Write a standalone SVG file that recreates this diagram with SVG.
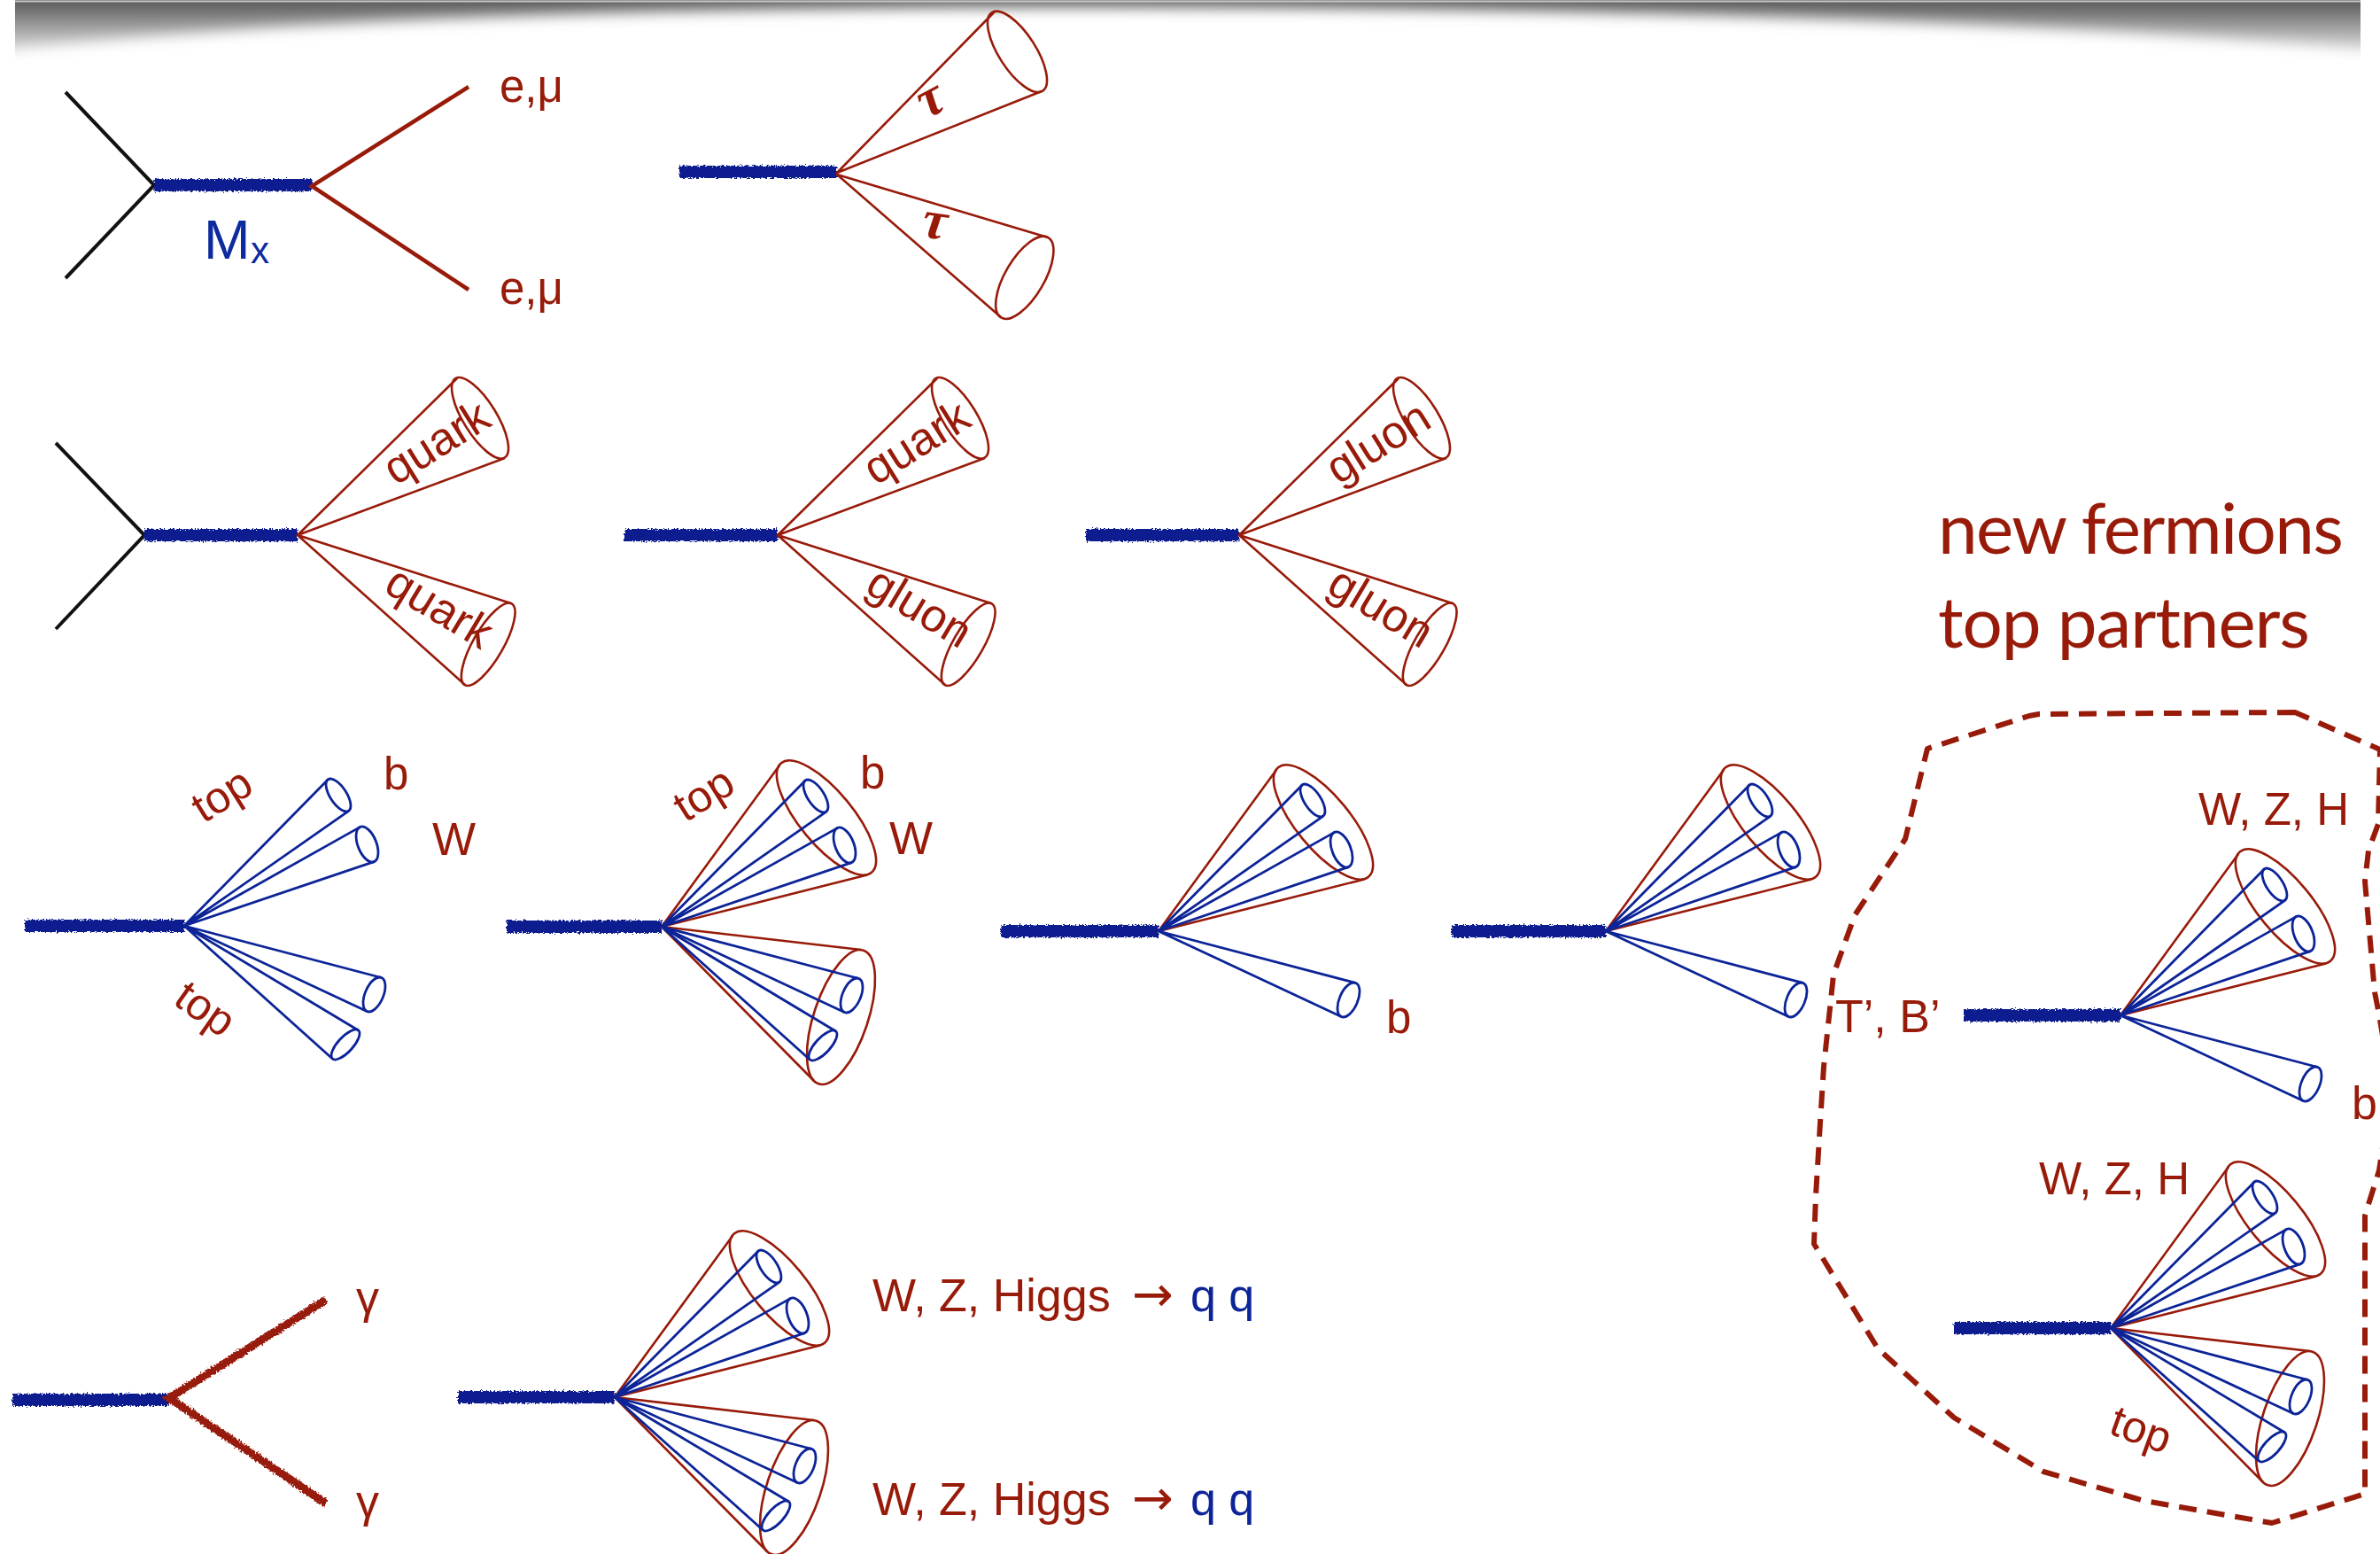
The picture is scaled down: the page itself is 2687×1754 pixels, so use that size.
<svg xmlns="http://www.w3.org/2000/svg" width="2687" height="1754" viewBox="0 0 2687 1754">
  <style>
    .rc { fill: none; stroke: #981b0a; stroke-width: 2.6; stroke-linejoin: round; }
    .bc { fill: none; stroke: #0c2497; stroke-width: 2.8; stroke-linejoin: round; }
    .prop { fill: #0a1f8e; }
    .lep { fill: none; stroke: #981b0a; stroke-width: 4.5; stroke-linejoin: miter; }
    .beam { fill: none; stroke: #111111; stroke-width: 4; stroke-linejoin: miter; }
    .lbl { font-family: "Liberation Sans", Arial, sans-serif; fill: #981b0a; }
    .blue { fill: #0c2497; }
    .arrow { font-family: "DejaVu Sans", sans-serif; font-size: 56px; }
    .big { font-family: Lato, "Open Sans", "Liberation Sans", sans-serif; font-weight: 400; fill: #981b0a; font-size: 80px; }
    .tau { font-family: "Liberation Serif", "Times New Roman", serif; font-weight: bold; font-style: italic; fill: #981b0a; font-size: 62px; }
    .outline { fill: none; stroke: #981b0a; stroke-width: 6; stroke-dasharray: 20 12; stroke-linejoin: round; }
  </style>
  <defs>
    <!-- ragged, grainy look of the propagator strokes -->
    <filter id="fuzz" x="-5%" y="-80%" width="110%" height="260%">
      <feTurbulence type="fractalNoise" baseFrequency="0.45 0.7" numOctaves="2" seed="7" result="noise"/>
      <feDisplacementMap in="SourceGraphic" in2="noise" scale="6" xChannelSelector="R" yChannelSelector="G"/>
    </filter>
    <filter id="fuzzLine" x="-10%" y="-10%" width="120%" height="120%">
      <feTurbulence type="fractalNoise" baseFrequency="0.5 0.5" numOctaves="2" seed="3" result="noise"/>
      <feDisplacementMap in="SourceGraphic" in2="noise" scale="7" xChannelSelector="R" yChannelSelector="G"/>
    </filter>
    <!-- page-edge shadow -->
    <linearGradient id="shadeGrad" gradientUnits="userSpaceOnUse" x1="0" y1="0" x2="0" y2="60">
      <stop offset="0" stop-color="#555555"/>
      <stop offset="1" stop-color="#e4e4e4"/>
    </linearGradient>
    <filter id="shadeBlur" filterUnits="userSpaceOnUse" x="-60" y="-60" width="2820" height="180">
      <feGaussianBlur stdDeviation="8"/>
    </filter>
    <clipPath id="shadeClip"><rect x="17" y="0" width="2648" height="90"/></clipPath>

    <!-- jet cones, apex at the origin -->
    <g id="coneRedUp" class="rc">
      <path d="M133,-182 L0,0 L232,-58.5"/>
      <ellipse cx="186" cy="-123" rx="80" ry="30" transform="rotate(50.4 186 -123)"/>
    </g>
    <g id="coneRedLow" class="rc">
      <path d="M225,26 L0,0 L172,174"/>
      <ellipse cx="202.5" cy="102" rx="79.5" ry="30.5" transform="rotate(108.6 202.5 102)"/>
    </g>
    <g id="jetsUp" class="bc">
      <path d="M162.4,-165.3 L0,0 L185.6,-129.7 M198.7,-111.6 L0,0 L214.3,-72.4"/>
      <ellipse cx="174" cy="-147.5" rx="21.2" ry="9.3" transform="rotate(56.9 174 -147.5)"/>
      <ellipse cx="206.5" cy="-92" rx="21.1" ry="10.5" transform="rotate(68.4 206.5 -92)"/>
    </g>
    <g id="jetB" class="bc">
      <path d="M222.7,58.5 L0,0 L206.3,96.5"/>
      <ellipse cx="214.5" cy="77.5" rx="20.7" ry="10.3" transform="rotate(113.2 214.5 77.5)"/>
    </g>
    <g id="jetsLow">
      <use href="#jetB"/>
      <g class="bc">
        <path d="M196.7,118 L0,0 L167.3,150"/>
        <ellipse cx="182" cy="134" rx="21.7" ry="8.5" transform="rotate(132.6 182 134)"/>
      </g>
    </g>
    <g id="qUp" class="rc">
      <path d="M180,-177 L0,0 L234,-87"/>
      <ellipse cx="206" cy="-132.2" rx="52.6" ry="18.7" transform="rotate(58.2 206 -132.2)"/>
    </g>
    <g id="qLow" class="rc">
      <path d="M241,77 L0,0 L189,169"/>
      <ellipse cx="215.2" cy="123.2" rx="53" ry="17" transform="rotate(120 215.2 123.2)"/>
    </g>
  </defs>

  <rect x="0" y="0" width="2687" height="1754" fill="#ffffff"/>

  <!-- shadow along the top edge -->
  <g id="top-shadow" clip-path="url(#shadeClip)">
    <path filter="url(#shadeBlur)" fill="url(#shadeGrad)" d="M-30,-30 H2720 V60 C2300,20 1700,6 1114,8 C700,10 300,22 -30,60 Z"/>
    <line x1="17" y1="1.5" x2="2665" y2="1.5" stroke="#c8c8c8" stroke-width="2"/>
  </g>

  <!-- resonance to lepton pair -->
  <g id="dilepton">
    <path class="beam" d="M74,104 L174,209 L74,314"/>
    <rect class="prop" x="174" y="202" width="178" height="14" filter="url(#fuzz)"/>
    <path class="lep" d="M529,98 L352,210 L529,327"/>
    <text class="lbl" x="564" y="115" font-size="51">e,μ</text>
    <text class="lbl" x="564" y="343" font-size="51">e,μ</text>
    <text x="230" y="292" font-family="Liberation Sans, Arial, sans-serif" font-size="63" fill="#0d2a9e">M</text>
    <text x="283" y="297" font-family="Liberation Sans, Arial, sans-serif" font-size="42" fill="#0d2a9e">x</text>
  </g>

  <!-- resonance to tau pair -->
  <g id="ditau">
    <rect class="prop" x="767" y="187" width="178" height="14" filter="url(#fuzz)"/>
    <g class="rc">
      <path d="M1123,13 L945,195 L1176,103"/>
      <ellipse cx="1148.5" cy="58.4" rx="52.7" ry="20.7" transform="rotate(57.1 1148.5 58.4)"/>
      <path d="M1183,268 L945,197 L1130,358"/>
      <ellipse cx="1156.8" cy="313.3" rx="52.4" ry="22" transform="rotate(120.4 1156.8 313.3)"/>
    </g>
    <text class="tau" text-anchor="middle" transform="translate(1052,116) rotate(-28)" x="0" y="14">τ</text>
    <text class="tau" text-anchor="middle" transform="translate(1055,255) rotate(8)" x="0" y="14">τ</text>
  </g>

  <!-- dijet: quark quark -->
  <g id="dijet-qq">
    <path class="beam" d="M63,500 L163,604 L63,710"/>
    <rect class="prop" x="163" y="597" width="173" height="14" filter="url(#fuzz)"/>
    <use href="#qUp" transform="translate(336,604)"/>
    <use href="#qLow" transform="translate(336,604)"/>
    <text class="lbl" font-size="52" text-anchor="middle" transform="translate(495,503) rotate(-32)" x="0" y="13">quark</text>
    <text class="lbl" font-size="52" text-anchor="middle" transform="translate(494,689) rotate(31)" x="0" y="13">quark</text>
  </g>

  <!-- dijet: quark gluon -->
  <g id="dijet-qg">
    <rect class="prop" x="705" y="597" width="173" height="14" filter="url(#fuzz)"/>
    <use href="#qUp" transform="translate(878,604)"/>
    <use href="#qLow" transform="translate(878,604)"/>
    <text class="lbl" font-size="52" text-anchor="middle" transform="translate(1037,503) rotate(-32)" x="0" y="13">quark</text>
    <text class="lbl" font-size="52" text-anchor="middle" transform="translate(1036,689) rotate(31)" x="0" y="13">gluon</text>
  </g>

  <!-- dijet: gluon gluon -->
  <g id="dijet-gg">
    <rect class="prop" x="1226" y="597" width="173" height="14" filter="url(#fuzz)"/>
    <use href="#qUp" transform="translate(1399,604)"/>
    <use href="#qLow" transform="translate(1399,604)"/>
    <text class="lbl" font-size="52" text-anchor="middle" transform="translate(1558,503) rotate(-32)" x="0" y="13">gluon</text>
    <text class="lbl" font-size="52" text-anchor="middle" transform="translate(1557,689) rotate(31)" x="0" y="13">gluon</text>
  </g>

  <!-- top pair, resolved -->
  <g id="ttbar-resolved">
    <rect class="prop" x="28" y="1038" width="180" height="14" filter="url(#fuzz)"/>
    <use href="#jetsUp" transform="translate(208,1045)"/>
    <use href="#jetsLow" transform="translate(208,1045)"/>
    <text class="lbl" font-size="50" text-anchor="middle" transform="translate(254,903) rotate(-32)" x="0" y="10">top</text>
    <text class="lbl" font-size="50" text-anchor="middle" transform="translate(228,1144) rotate(35)" x="0" y="10">top</text>
    <text class="lbl" x="433" y="891" font-size="51">b</text>
    <text class="lbl" x="488" y="965" font-size="52">W</text>
  </g>

  <!-- top pair, boosted -->
  <g id="ttbar-boosted">
    <rect class="prop" x="572" y="1039" width="175" height="14" filter="url(#fuzz)"/>
    <use href="#coneRedUp" transform="translate(747,1046)"/>
    <use href="#coneRedLow" transform="translate(747,1046)"/>
    <use href="#jetsUp" transform="translate(747,1046)"/>
    <use href="#jetsLow" transform="translate(747,1046)"/>
    <text class="lbl" font-size="50" text-anchor="middle" transform="translate(798,902) rotate(-32)" x="0" y="10">top</text>
    <text class="lbl" x="971" y="890" font-size="51">b</text>
    <text class="lbl" x="1004" y="964" font-size="52">W</text>
  </g>

  <!-- boosted top plus b -->
  <g id="top-b-1">
    <rect class="prop" x="1130" y="1044" width="178" height="14" filter="url(#fuzz)"/>
    <use href="#coneRedUp" transform="translate(1308,1051)"/>
    <use href="#jetsUp" transform="translate(1308,1051)"/>
    <use href="#jetB" transform="translate(1308,1051)"/>
    <text class="lbl" x="1565" y="1166" font-size="51">b</text>
  </g>

  <g id="top-b-2">
    <rect class="prop" x="1639" y="1044" width="174" height="14" filter="url(#fuzz)"/>
    <use href="#coneRedUp" transform="translate(1813,1051)"/>
    <use href="#jetsUp" transform="translate(1813,1051)"/>
    <use href="#jetB" transform="translate(1813,1051)"/>
  </g>

  <!-- new fermions / top partners -->
  <g id="title-new-fermions">
    <text class="big" x="2188" y="625" textLength="458">new fermions</text>
    <text class="big" x="2188" y="731" textLength="420">top partners</text>
  </g>

  <g id="top-partner-outline">
    <path class="outline" d="M2591,804 L2302,806 L2291,808 L2176,845 L2151,947 L2094,1033 L2070,1100 L2059,1204 L2055,1267 L2050,1350 L2048,1404 L2120,1522 L2206,1600 L2307,1661 L2421,1694 L2565,1719 L2670,1686 L2670,1372 L2686,1321 L2700,1230 L2686,1145 L2681,1120 L2670,995 L2674,960 L2685,930 L2687,846 Z"/>
    <text class="lbl" x="2072" y="1165" font-size="52">T’, B’</text>
  </g>

  <!-- heavy quark to boson plus b -->
  <g id="tprime-vb">
    <rect class="prop" x="2217" y="1139" width="177" height="14" filter="url(#fuzz)"/>
    <use href="#coneRedUp" transform="translate(2394,1146)"/>
    <use href="#jetsUp" transform="translate(2394,1146)"/>
    <use href="#jetB" transform="translate(2394,1146)"/>
    <text class="lbl" x="2482" y="931" font-size="51">W, Z, H</text>
    <text class="lbl" x="2655" y="1263" font-size="52">b</text>
  </g>

  <!-- heavy quark to boson plus top -->
  <g id="tprime-vt">
    <rect class="prop" x="2206" y="1492" width="177" height="14" filter="url(#fuzz)"/>
    <use href="#coneRedUp" transform="translate(2383,1499)"/>
    <use href="#coneRedLow" transform="translate(2383,1499)"/>
    <use href="#jetsUp" transform="translate(2383,1499)"/>
    <use href="#jetsLow" transform="translate(2383,1499)"/>
    <text class="lbl" x="2302" y="1348" font-size="51">W, Z, H</text>
    <text class="lbl" font-size="50" text-anchor="middle" transform="translate(2415,1620) rotate(20)" x="0" y="10">top</text>
  </g>

  <!-- diphoton -->
  <g id="diphoton">
    <rect class="prop" x="14" y="1573" width="177" height="14" filter="url(#fuzz)"/>
    <path d="M368,1467 L191,1578 L368,1697" fill="none" stroke="#981b0a" stroke-width="9" filter="url(#fuzzLine)"/>
    <text class="lbl" x="402" y="1482" font-size="52">γ</text>
    <text class="lbl" x="402" y="1712" font-size="52">γ</text>
  </g>

  <!-- diboson, hadronic decays -->
  <g id="diboson">
    <rect class="prop" x="517" y="1570" width="177" height="14" filter="url(#fuzz)"/>
    <use href="#coneRedUp" transform="translate(694,1577)"/>
    <use href="#coneRedLow" transform="translate(694,1577)"/>
    <use href="#jetsUp" transform="translate(694,1577)"/>
    <use href="#jetsLow" transform="translate(694,1577)"/>
    <text class="lbl" font-size="52" y="1480"><tspan x="985">W, Z, Higgs</tspan><tspan x="1278" class="arrow">→</tspan><tspan x="1344" class="blue">q q</tspan></text>
    <text class="lbl" font-size="52" y="1710"><tspan x="985">W, Z, Higgs</tspan><tspan x="1278" class="arrow">→</tspan><tspan x="1344" class="blue">q q</tspan></text>
  </g>
</svg>
